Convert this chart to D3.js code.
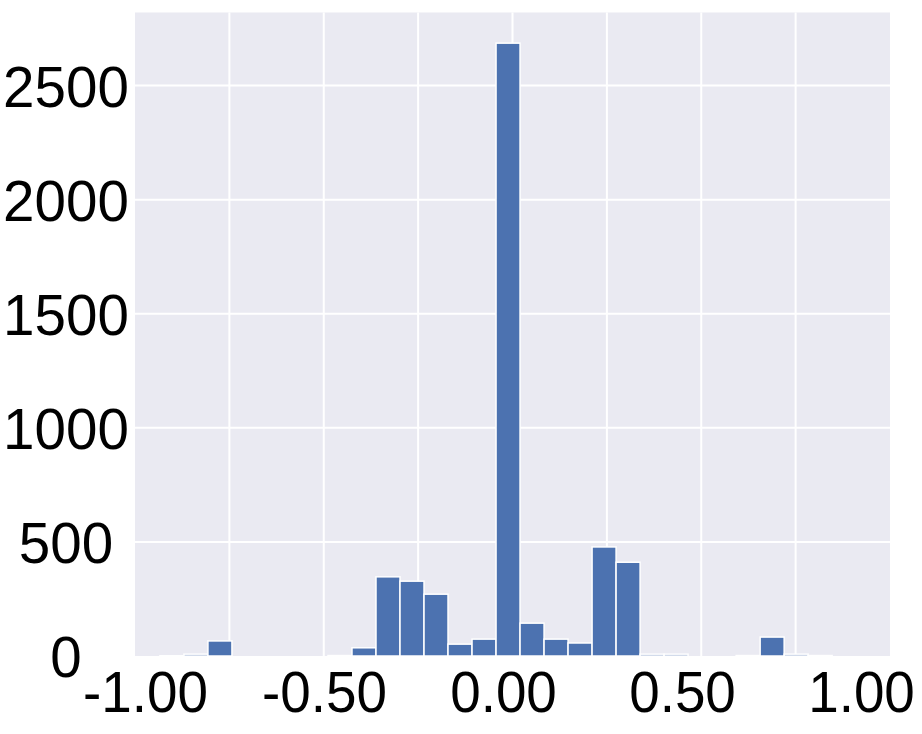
<!DOCTYPE html>
<html>
<head>
<meta charset="utf-8">
<script src="https://cdn.jsdelivr.net/npm/d3@7/dist/d3.min.js"></script>
<style>
  html, body { margin: 0; padding: 0; background: #ffffff; }
  svg { display: block; }
  text { font-family: "Liberation Sans", Arial, sans-serif; fill: #000; }
</style>
</head>
<body>
<svg id="chart" width="922" height="734"></svg>
<script>
// ---- data ----
const binEdges = [-0.934, -0.8704, -0.8068, -0.7432, -0.6796, -0.6160, -0.5524, -0.4888,
  -0.4252, -0.3616, -0.2980, -0.2344, -0.1708, -0.1072, -0.0436, 0.0200, 0.0836,
  0.1472, 0.2108, 0.2744, 0.3380, 0.4016, 0.4652, 0.5288, 0.5924, 0.6560, 0.7196,
  0.7832, 0.8468];
const counts = [1, 8, 66, 0, 0, 0, 0, 2, 36, 347, 328, 271, 52, 74, 2686, 144, 74, 57,
  478, 411, 8, 8, 0, 0, 2, 83, 8, 2];
const xGridValues = [-0.75, -0.5, -0.25, 0, 0.25, 0.5, 0.75];
const xTickLabels = [-1.0, -0.5, 0.0, 0.5, 1.0];
const yTickValues = [0, 500, 1000, 1500, 2000, 2500];

// ---- layout ----
const svg = d3.select("#chart");
const plot = { left: 135, right: 890, top: 12.5, bottom: 656 };
const yMax = d3.max(counts) * 1.05;

const x = d3.scaleLinear().domain([-1, 1]).range([plot.left, plot.right]);
const y = d3.scaleLinear().domain([0, yMax]).range([plot.bottom, plot.top]);
// tick labels are laid out on a slightly narrower band than the plot
const xLabel = d3.scaleLinear().domain([-1, 1]).range([145, 861]);

// background
svg.append("rect")
  .attr("x", plot.left).attr("y", plot.top)
  .attr("width", plot.right - plot.left).attr("height", plot.bottom - plot.top)
  .attr("fill", "#EAEAF2");

// grid
const grid = svg.append("g").attr("stroke", "#ffffff").attr("stroke-width", 2);
grid.selectAll("line.v").data(xGridValues).join("line")
  .attr("class", "v")
  .attr("x1", d => x(d)).attr("x2", d => x(d))
  .attr("y1", plot.top).attr("y2", plot.bottom);
grid.selectAll("line.h").data(yTickValues.filter(d => d > 0)).join("line")
  .attr("class", "h")
  .attr("x1", plot.left).attr("x2", plot.right)
  .attr("y1", d => y(d)).attr("y2", d => y(d));

// bars
const bins = counts.map((c, i) => ({ x0: binEdges[i], x1: binEdges[i + 1], c }));
svg.append("g").selectAll("rect").data(bins).join("rect")
  .attr("x", d => x(d.x0))
  .attr("width", d => Math.max(0, x(d.x1) - x(d.x0)))
  .attr("y", d => y(d.c))
  .attr("height", d => y(0) - y(d.c))
  .attr("fill", "#4C72B0")
  .attr("stroke", "#ffffff")
  .attr("stroke-width", 1.5);

// y axis labels (centered)
const yAxis = d3.axisLeft(y).tickValues(yTickValues).tickSize(0).tickFormat(d3.format("d"));
const gy = svg.append("g").attr("transform", "translate(66,0)").call(yAxis);
gy.select(".domain").remove();
gy.selectAll("text")
  .attr("x", 0).attr("dy", "0.36em")
  .attr("text-anchor", "middle")
  .attr("transform", "scale(0.975,1)")
  .style("font-size", "58px")
  .style("font-family", "'Liberation Sans', Arial, sans-serif")
  .attr("fill", "#000");

// x axis labels
const xAxis = d3.axisBottom(xLabel).tickValues(xTickLabels).tickSize(0).tickFormat(d3.format(".2f"));
const gx = svg.append("g").attr("transform", "translate(0,712)").call(xAxis);
gx.select(".domain").remove();
gx.selectAll("text")
  .attr("y", 0).attr("dy", 0)
  .attr("text-anchor", "middle")
  .attr("transform", "scale(0.945,1)")
  .style("font-size", "58px")
  .style("font-family", "'Liberation Sans', Arial, sans-serif")
  .attr("fill", "#000")
  .text(d => d3.format(".2f")(d).replace("−", "-"));
</script>
</body>
</html>
